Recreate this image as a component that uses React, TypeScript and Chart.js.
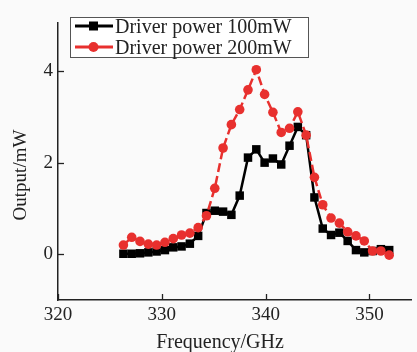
import React, { useEffect, useRef } from "react";
import { Chart, registerables } from "chart.js";

Chart.register(...registerables);

const frequency = [
  326.3, 327.1, 327.9, 328.7, 329.5, 330.3, 331.1, 331.9, 332.7, 333.5, 334.3,
  335.1, 335.9, 336.7, 337.5, 338.3, 339.1, 339.9, 340.7, 341.5, 342.3, 343.1,
  343.9, 344.7, 345.5, 346.3, 347.1, 347.9, 348.7, 349.5, 350.3, 351.1, 351.9,
];
const power100 = [
  0.01, 0.01, 0.02, 0.04, 0.06, 0.09, 0.15, 0.17, 0.23, 0.4, 0.9, 0.95, 0.93,
  0.86, 1.28, 2.11, 2.29, 2.0, 2.09, 1.96, 2.37, 2.78, 2.6, 1.24, 0.56, 0.42,
  0.47, 0.29, 0.09, 0.04, 0.07, 0.11, 0.09,
];
const power200 = [
  0.2, 0.37, 0.28, 0.22, 0.2, 0.26, 0.34, 0.42, 0.46, 0.58, 0.84, 1.44, 2.32,
  2.83, 3.16, 3.59, 4.03, 3.49, 3.1, 2.66, 2.75, 3.11, 2.6, 1.68, 1.08, 0.79,
  0.68, 0.49, 0.4, 0.29, 0.07, 0.07, -0.02,
];
const seriesLabels = ["Driver power 100mW", "Driver power 200mW"];
const xTicks = [320, 330, 340, 350];
const yTicks = [0, 2, 4];
const xTitle = "Frequency/GHz";
const yTitle = "Output/mW";

const BLACK = "#000000";
const RED = "#e8302e";
const AXIS = "#222222";
const FONT = "'Liberation Serif', 'Times New Roman', serif";

const decorPlugin = {
  id: "decor",
  afterDraw(chart: any) {
    const ctx = chart.ctx as CanvasRenderingContext2D;
    const xs = chart.scales.x;
    const ys = chart.scales.y;
    const area = chart.chartArea;
    ctx.save();
    // inner tick marks
    ctx.strokeStyle = AXIS;
    ctx.lineWidth = 1.3;
    xTicks.forEach((v) => {
      const px = Math.round(xs.getPixelForValue(v)) + 0.5;
      ctx.beginPath();
      ctx.moveTo(px, area.bottom);
      ctx.lineTo(px, area.bottom - 6);
      ctx.stroke();
    });
    yTicks.forEach((v) => {
      const py = Math.round(ys.getPixelForValue(v)) + 0.5;
      ctx.beginPath();
      ctx.moveTo(area.left, py);
      ctx.lineTo(area.left + 6, py);
      ctx.stroke();
    });
    // axis titles
    ctx.fillStyle = "#222";
    ctx.font = `20px ${FONT}`;
    ctx.textAlign = "center";
    ctx.textBaseline = "alphabetic";
    ctx.fillText(xTitle, 220, 348);
    ctx.save();
    ctx.translate(26, 175);
    ctx.rotate(-Math.PI / 2);
    ctx.font = `19px ${FONT}`;
    ctx.fillText(yTitle, 0, 0);
    ctx.restore();
    // legend box
    const bx = 70.5, by = 17.5, bw = 238, bh = 40;
    ctx.fillStyle = "#ffffff";
    ctx.fillRect(bx, by, bw, bh);
    ctx.strokeStyle = "#555";
    ctx.lineWidth = 1;
    ctx.strokeRect(bx, by, bw, bh);
    const rows = [26, 47];
    chart.data.datasets.forEach((ds: any, i: number) => {
      const y = rows[i];
      ctx.strokeStyle = ds.borderColor;
      ctx.lineWidth = 3;
      ctx.setLineDash([]);
      ctx.beginPath();
      ctx.moveTo(75, y);
      ctx.lineTo(113, y);
      ctx.stroke();
      ctx.fillStyle = ds.borderColor;
      if (ds.pointStyle === "rect") {
        ctx.fillRect(89, y - 4.5, 9, 9);
      } else {
        ctx.beginPath();
        ctx.arc(93.5, y, 5, 0, Math.PI * 2);
        ctx.fill();
      }
      ctx.fillStyle = "#222";
      ctx.font = `20px ${FONT}`;
      ctx.textAlign = "left";
      ctx.textBaseline = "alphabetic";
      ctx.fillText(ds.label, 115, y + 7);
    });
    ctx.restore();
  },
};

export default function App() {
  const canvasRef = useRef<HTMLCanvasElement | null>(null);

  useEffect(() => {
    document.body.style.margin = "0";
    document.body.style.background = "#fafafa";
    const canvas = canvasRef.current;
    if (!canvas) return;
    const chart = new Chart(canvas, {
      type: "line",
      data: {
        datasets: [
          {
            label: seriesLabels[0],
            data: frequency.map((f, i) => ({ x: f, y: power100[i] })),
            borderColor: BLACK,
            backgroundColor: BLACK,
            borderWidth: 2.5,
            pointStyle: "rect",
            pointRadius: 6,
            pointBorderWidth: 0,
            pointBackgroundColor: BLACK,
            order: 1,
          },
          {
            label: seriesLabels[1],
            data: frequency.map((f, i) => ({ x: f, y: power200[i] })),
            borderColor: RED,
            backgroundColor: RED,
            borderWidth: 2.5,
            borderDash: [9, 4],
            pointStyle: "circle",
            pointRadius: 4.8,
            pointBorderWidth: 0,
            pointBackgroundColor: RED,
            order: 0,
          },
        ],
      },
      options: {
        animation: false,
        responsive: false,
        maintainAspectRatio: false,
        layout: { padding: { top: 23, right: 0, left: 0, bottom: 0 } },
        plugins: {
          legend: { display: false },
          tooltip: { enabled: false },
          title: { display: false },
        },
        scales: {
          x: {
            type: "linear",
            min: 320,
            max: 354,
            grid: { display: false, drawTicks: false },
            border: { display: true, color: AXIS, width: 1.5 },
            ticks: {
              stepSize: 10,
              includeBounds: false,
              padding: 4,
              color: "#222",
              font: { family: FONT, size: 19 },
              maxRotation: 0,
            },
            afterFit(scale: any) {
              scale.height = 52;
            },
          },
          y: {
            type: "linear",
            min: -1,
            max: 5.05,
            grid: { display: false, drawTicks: false },
            border: { display: true, color: AXIS, width: 1.5 },
            ticks: {
              stepSize: 2,
              includeBounds: false,
              padding: 5,
              color: "#222",
              font: { family: FONT, size: 19 },
            },
            afterFit(scale: any) {
              scale.width = 58;
            },
          },
        },
      },
      plugins: [decorPlugin],
    });
    return () => chart.destroy();
  }, []);

  return (
    <div style={{ width: 417, height: 352, background: "#fafafa" }}>
      <canvas ref={canvasRef} width={417} height={352} style={{ display: "block" }} />
    </div>
  );
}
